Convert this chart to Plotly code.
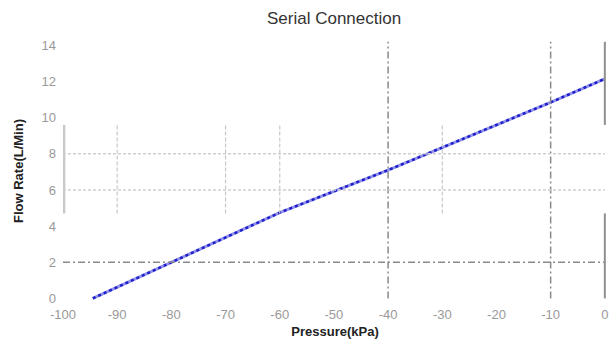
import plotly.graph_objects as go

# Data
pressure = [-94.5, -80, -60, -40, -30, -10, 0]
flow = [0.0, 2.0, 4.75, 7.1, 8.35, 10.85, 12.15]

x_ticks = [-100, -90, -80, -70, -60, -50, -40, -30, -20, -10, 0]
x_tick_text = ["-100", "-90", "-80", "-70", "-60", "-50", "-40", "-30", "-20", "-10", "0"]
y_ticks = [0, 2, 4, 6, 8, 10, 12, 14]

# reference guide lines
dashdot_v = [-40, -10]
light_v = [-90, -70, -60, -30]
light_h = [6, 8]
dashdot_h = [2]

fig = go.Figure()

shapes = []
for xv in dashdot_v:
    shapes.append(dict(type="line", xref="x", yref="y", x0=xv, x1=xv, y0=0, y1=14.2,
                       line=dict(color="#8a8a8a", width=1.5, dash="7px,3px,2px,3px")))
for xv in light_v:
    shapes.append(dict(type="line", xref="x", yref="y", x0=xv, x1=xv, y0=4.7, y1=9.6,
                       line=dict(color="#c8c8c8", width=1.2, dash="4px,2px")))
shapes.append(dict(type="line", xref="x", yref="y", x0=-99.8, x1=-99.8, y0=4.7, y1=9.6,
                   line=dict(color="#c8c8c8", width=2.5)))
for yv in light_h:
    shapes.append(dict(type="line", xref="x", yref="y", x0=-100, x1=0, y0=yv, y1=yv,
                       line=dict(color="#cfcfcf", width=1.5, dash="3px,2px")))
for yv in dashdot_h:
    shapes.append(dict(type="line", xref="x", yref="y", x0=-100, x1=0, y0=yv, y1=yv,
                       line=dict(color="#8a8a8a", width=1.5, dash="7px,3px,2px,3px")))
shapes.append(dict(type="line", xref="x", yref="y", x0=0, x1=0, y0=9.6, y1=14.2,
                   line=dict(color="#8f8f8f", width=2)))
shapes.append(dict(type="line", xref="x", yref="y", x0=0, x1=0, y0=0, y1=4.7,
                   line=dict(color="#8f8f8f", width=2)))

fig.add_trace(go.Scatter(x=pressure, y=flow, mode="lines",
                         line=dict(color="rgba(110,110,225,0.75)", width=3),
                         hoverinfo="skip", showlegend=False))
fig.add_trace(go.Scatter(x=pressure, y=flow, mode="lines",
                         line=dict(color="#1e1ecc", width=2.5, dash="dot"),
                         showlegend=False))

fig.update_layout(
    width=613, height=344,
    margin=dict(l=63, r=6, t=40, b=42),
    plot_bgcolor="white", paper_bgcolor="white",
    shapes=shapes,
    title=dict(text="Serial Connection", x=0.545, xanchor="center", y=0.965, yanchor="top",
               font=dict(family="Liberation Sans, Arial", size=17, color="#333333")),
    font=dict(family="Liberation Sans, Arial"),
    xaxis=dict(range=[-100, 0.4], tickvals=x_ticks, ticktext=x_tick_text,
               showgrid=False, zeroline=False,
               showline=False, ticks="", automargin=False, ticklabelstandoff=3,
               tickfont=dict(size=13, color="#999999"),
               title=dict(text="<b>Pressure(kPa)</b>", standoff=5,
                          font=dict(size=13, color="#222222"))),
    yaxis=dict(range=[-0.2, 14.3], tickvals=y_ticks, showgrid=False, zeroline=False,
               showline=False, ticks="", automargin=False, ticklabelstandoff=6,
               tickfont=dict(size=13, color="#999999"),
               title=dict(text="<b>Flow Rate(L/Min)</b>", standoff=14,
                          font=dict(size=13, color="#222222"))),
)

fig.write_html("out.html", config={"displayModeBar": False},
               post_script="document.body.style.margin='0px';document.body.style.overflow='hidden';")
